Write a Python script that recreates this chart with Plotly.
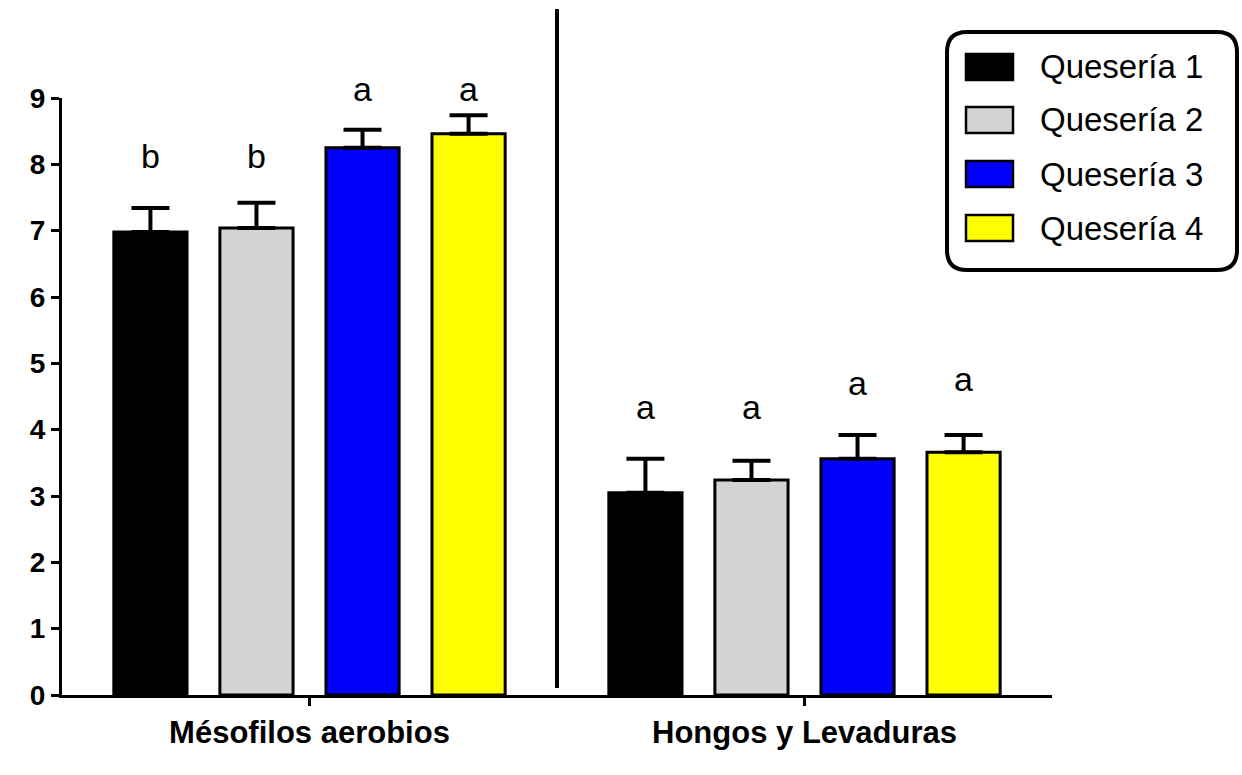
import plotly.graph_objects as go

# Microbial counts (log CFU/g) per cheese factory
categories = ["Mésofilos aerobios", "Hongos y Levaduras"]
series_names = ["Quesería 1", "Quesería 2", "Quesería 3", "Quesería 4"]
series_colors = ["#000000", "#d3d3d3", "#0000ff", "#ffff00"]

q1_means = [6.98, 3.05]
q2_means = [7.04, 3.24]
q3_means = [8.25, 3.56]
q4_means = [8.46, 3.66]

q1_err = [0.36, 0.51]
q2_err = [0.38, 0.29]
q3_err = [0.27, 0.36]
q4_err = [0.28, 0.26]

# Significance letters and the height at which each one is written
q1_letters = ["b", "a"]
q2_letters = ["b", "a"]
q3_letters = ["a", "a"]
q4_letters = ["a", "a"]
letter_heights = [[8.13, 4.34], [8.13, 4.34], [9.14, 4.70], [9.14, 4.76]]

y_ticks = [0, 1, 2, 3, 4, 5, 6, 7, 8, 9]
Y_MAX = 9

all_means = [q1_means, q2_means, q3_means, q4_means]
all_err = [q1_err, q2_err, q3_err, q4_err]
all_letters = [q1_letters, q2_letters, q3_letters, q4_letters]

FONT = "Arial, Liberation Sans, sans-serif"
BARGAP = 0.143
GROUPGAP = 0.31

# Plot-area geometry in pixels (used to place the boxed legend)
W, H = 1242, 775
L, R, T, B = 62, 190, 98, 80
PW, PH = W - L - R, H - T - B


def px_x(x):
    return (x - L) / PW


def px_y(y):
    return (H - B - y) / PH


fig = go.Figure()
for name, color, m, e in zip(series_names, series_colors, all_means, all_err):
    fig.add_trace(go.Bar(
        name=name, x=categories, y=m,
        marker=dict(color=color, line=dict(color="black", width=3)),
        error_y=dict(type="data", array=e, arrayminus=[0] * len(e),
                     symmetric=False, color="black", thickness=4, width=19),
        showlegend=False,
    ))

# Letters above each bar (group offset follows the bar layout); the
# vertical position is mapped from data units onto the plot area so
# letters above the top tick still show.
n = len(series_names)
slot = (1 - BARGAP) / n
annotations = []
for j, (letters, heights) in enumerate(zip(all_letters, letter_heights)):
    for i, (lt, h) in enumerate(zip(letters, heights)):
        annotations.append(dict(
            x=i + (j - (n - 1) / 2) * slot, y=h / Y_MAX, xref="x", yref="paper",
            text=lt, showarrow=False, font=dict(family=FONT, size=34, color="black"),
            xanchor="center", yanchor="middle",
        ))

shapes = [
    # vertical divider between the two groups
    dict(type="line", xref="x", yref="paper", x0=0.5, x1=0.5,
         y0=px_y(688), y1=px_y(9), line=dict(color="black", width=4)),
]

# Rounded legend frame
x0, x1, y0, y1, r = 947, 1237, 32, 270, 20
path = (f"M {px_x(x0 + r)},{px_y(y0)} L {px_x(x1 - r)},{px_y(y0)} "
        f"Q {px_x(x1)},{px_y(y0)} {px_x(x1)},{px_y(y0 + r)} "
        f"L {px_x(x1)},{px_y(y1 - r)} Q {px_x(x1)},{px_y(y1)} {px_x(x1 - r)},{px_y(y1)} "
        f"L {px_x(x0 + r)},{px_y(y1)} Q {px_x(x0)},{px_y(y1)} {px_x(x0)},{px_y(y1 - r)} "
        f"L {px_x(x0)},{px_y(y0 + r)} Q {px_x(x0)},{px_y(y0)} {px_x(x0 + r)},{px_y(y0)} Z")
shapes.append(dict(type="path", xref="paper", yref="paper", path=path,
                   line=dict(color="black", width=4), fillcolor="white"))

row_centers = [67, 120, 174, 228]
for name, color, yc in zip(series_names, series_colors, row_centers):
    shapes.append(dict(type="rect", xref="paper", yref="paper",
                       x0=px_x(966), x1=px_x(1013), y0=px_y(yc - 13), y1=px_y(yc + 13),
                       fillcolor=color, line=dict(color="black", width=2.5)))
    annotations.append(dict(x=px_x(1038), y=px_y(yc), xref="paper", yref="paper",
                            text=name, showarrow=False, xanchor="left", yanchor="middle",
                            font=dict(family=FONT, size=33, color="black")))

fig.update_layout(
    width=W, height=H,
    margin=dict(l=L, r=R, t=T, b=B, pad=0),
    paper_bgcolor="white", plot_bgcolor="white",
    barmode="group", bargap=BARGAP, bargroupgap=GROUPGAP,
    font=dict(family=FONT, color="black"),
    shapes=shapes, annotations=annotations,
    xaxis=dict(
        type="category", showline=True, linecolor="black", linewidth=3,
        ticks="outside", ticklen=8, tickwidth=3, tickcolor="black",
        tickfont=dict(family=FONT, size=31, color="black", weight="bold"),
        showgrid=False, zeroline=False, range=[-0.5, 1.5],
    ),
    yaxis=dict(
        range=[0, Y_MAX], tickvals=y_ticks, showline=True, linecolor="black", linewidth=3,
        ticks="outside", ticklen=8, tickwidth=3, tickcolor="black",
        tickfont=dict(family=FONT, size=28, color="black", weight="bold"),
        showgrid=False, zeroline=False,
    ),
)

fig.write_html("out.html")
